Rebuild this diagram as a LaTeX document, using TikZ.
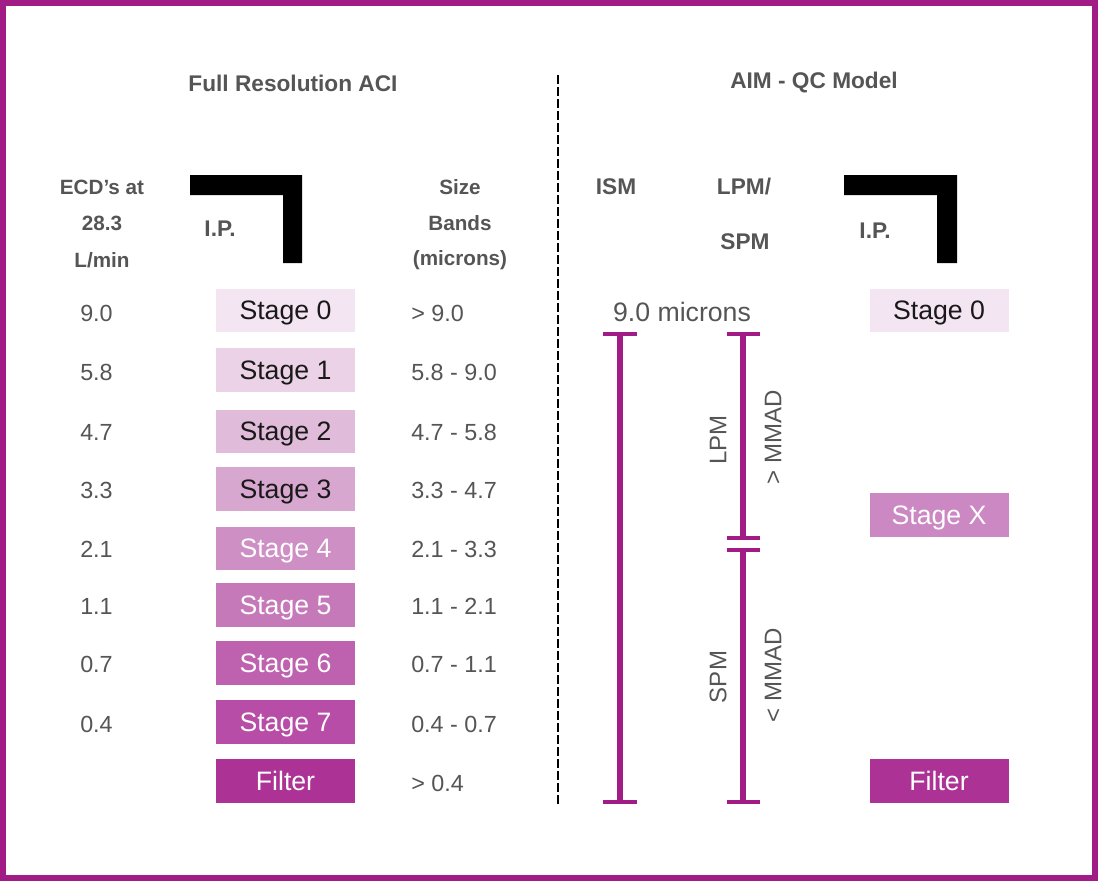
\documentclass[tikz,border=0pt]{standalone}
\usepackage{fontspec}
\setmainfont{Liberation Sans}
\definecolor{mag}{HTML}{A21C86}
\definecolor{txt}{HTML}{555555}
\definecolor{sA}{HTML}{F3E5F1}
\definecolor{sB}{HTML}{EBD2E6}
\definecolor{sC}{HTML}{E0BCDA}
\definecolor{sD}{HTML}{D8A7CF}
\definecolor{sE}{HTML}{CE8FC4}
\definecolor{sF}{HTML}{C679B9}
\definecolor{sG}{HTML}{BE62AF}
\definecolor{sH}{HTML}{B74DA6}
\definecolor{sI}{HTML}{AC3395}
\definecolor{sX}{HTML}{CC88C2}
\begin{document}
\begin{tikzpicture}[x=0.75pt,y=-0.75pt,
  stagebox/.style={rectangle,inner sep=0pt,minimum width=104.25pt,minimum height=32.5pt,
     font=\fontsize{20}{22}\selectfont,text height=14pt,text depth=0pt},
  darktext/.style={text=black!90},
  lighttext/.style={text=white},
  head/.style={text=txt,font=\fontsize{17}{19}\bfseries\selectfont},
  colhead/.style={text=txt,font=\fontsize{15.5}{18}\bfseries\selectfont},
  num/.style={text=txt,font=\fontsize{17.5}{19}\selectfont,anchor=west,inner sep=0pt,text height=12.5pt,text depth=0pt},
  rot/.style={text=txt,font=\fontsize{18}{20}\selectfont,rotate=90},
  barline/.style={draw=mag,line width=4.5pt},
  barcap/.style={draw=mag,line width=3pt},
  ipbar/.style={fill=black}]
\useasboundingbox (0,0) rectangle (1098,881);
\fill[white] (0,0) rectangle (1098,881);
\draw[mag,line width=4.5pt] (3,3) rectangle (1095,878);

% divider
\coordinate (dtop) at (558,75);
\coordinate (dbot) at (558,806);
\draw[line width=2pt,dash pattern=on 6.5pt off 2.5pt] (dtop) -- (dbot);

% headers
\node[head] (hl) at (293,83) {Full Resolution ACI};
\node[head] (hr) at (814,83) {AIM - QC Model};

\node[colhead] (ecd1) at (102,187) {ECD’s at};
\node[colhead] (ecd2) at (102,223) {28.3};
\node[colhead] (ecd3) at (102,260) {L/min};
\node[colhead] (sz1) at (460,187) {Size};
\node[colhead] (sz2) at (460,223) {Bands};
\node[colhead] (sz3) at (460,260) {(microns)};
\node[head] (ipl) at (220,229) {I.P.};
\node[head] (ism) at (616,187) {ISM};
\node[head] (lpmh) at (744,187) {LPM/};
\node[head] (spmh) at (745,242) {SPM};
\node[head] (ipr) at (875,231) {I.P.};

% I.P. brackets
\fill[ipbar] (190,175) -- (302,175) -- (302,263) -- (283,263) -- (283,195) -- (190,195) -- cycle;
\fill[ipbar] (844,175) -- (957,175) -- (957,263) -- (937,263) -- (937,195) -- (844,195) -- cycle;

% left stages
\node[stagebox,fill=sA,darktext] (s0) at (285.5,310.5) {Stage 0};
\node[stagebox,fill=sB,darktext] (s1) at (285.5,370) {Stage 1};
\node[stagebox,fill=sC,darktext] (s2) at (285.5,431.5) {Stage 2};
\node[stagebox,fill=sD,darktext] (s3) at (285.5,489) {Stage 3};
\node[stagebox,fill=sE,lighttext] (s4) at (285.5,548.5) {Stage 4};
\node[stagebox,fill=sF,lighttext] (s5) at (285.5,605) {Stage 5};
\node[stagebox,fill=sG,lighttext] (s6) at (285.5,663) {Stage 6};
\node[stagebox,fill=sH,lighttext] (s7) at (285.5,722) {Stage 7};
\node[stagebox,fill=sI,lighttext] (sf) at (285.5,781) {Filter};

% ECD numbers
\node[num] (e0) at (80,313) {9.0};
\node[num] (e1) at (80,372) {5.8};
\node[num] (e2) at (80,432) {4.7};
\node[num] (e3) at (80,490) {3.3};
\node[num] (e4) at (80,549) {2.1};
\node[num] (e5) at (80,606) {1.1};
\node[num] (e6) at (80,664) {0.7};
\node[num] (e7) at (80,724) {0.4};

% size bands
\node[num] (b0) at (411,313) {> 9.0};
\node[num] (b1) at (411,372) {5.8 - 9.0};
\node[num] (b2) at (411,432) {4.7 - 5.8};
\node[num] (b3) at (411,490) {3.3 - 4.7};
\node[num] (b4) at (411,549) {2.1 - 3.3};
\node[num] (b5) at (411,606) {1.1 - 2.1};
\node[num] (b6) at (411,664) {0.7 - 1.1};
\node[num] (b7) at (411,724) {0.4 - 0.7};
\node[num] (b8) at (411,783) {> 0.4};

% right stages
\node[stagebox,fill=sA,darktext] (r0) at (939,310.5) {Stage 0};
\node[stagebox,fill=sX,lighttext] (rx) at (939,515) {Stage X};
\node[stagebox,fill=sI,lighttext] (rf) at (939,781) {Filter};

\node[text=txt,font=\fontsize{20}{22}\selectfont] (mic) at (682,312) {9.0 microns};

% ISM bar
\coordinate (ismT) at (620,334);
\coordinate (ismB) at (620,802);
\draw[barline] (ismT) -- (ismB);
\draw[barcap] (603,334) -- (637,334);
\draw[barcap] (603,802) -- (637,802);

% LPM bar
\coordinate (lpmT) at (743,334);
\coordinate (lpmB) at (743,538);
\draw[barline] (lpmT) -- (lpmB);
\draw[barcap] (727,334) -- (760,334);
\draw[barcap] (727,538) -- (760,538);

% SPM bar
\coordinate (spmT) at (743,550);
\coordinate (spmB) at (743,802);
\draw[barline] (spmT) -- (spmB);
\draw[barcap] (727,550) -- (760,550);
\draw[barcap] (727,802) -- (760,802);

\node[rot] (lpm) at (718,440) {LPM};
\node[rot] (gt) at (773,437) {> MMAD};
\node[rot] (spm) at (718,677) {SPM};
\node[rot] (lt) at (773,675) {< MMAD};
\end{tikzpicture}
\end{document}
